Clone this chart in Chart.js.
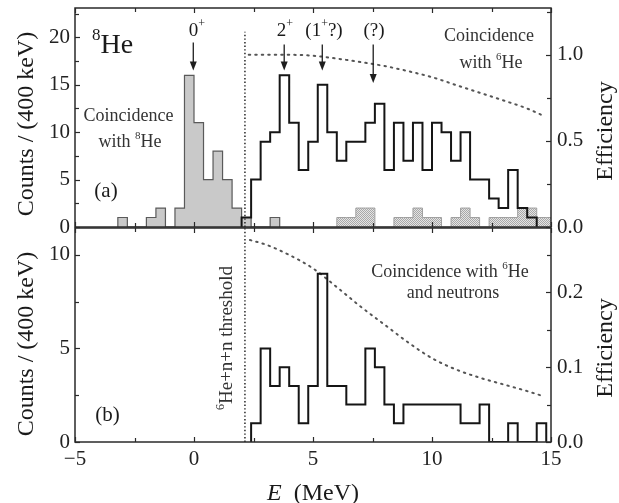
<!DOCTYPE html>
<html><head><meta charset="utf-8">
<script src="https://cdn.jsdelivr.net/npm/chart.js@4.4.0/dist/chart.umd.min.js"></script>
<style>
html,body{margin:0;padding:0;background:#fff;}
#wrap{position:relative;width:619px;height:503px;background:#fff;}
canvas{position:absolute;left:0;top:0;}
</style></head><body>
<div id="wrap"><canvas id="cb" width="619" height="503"></canvas><canvas id="ca" width="619" height="503"></canvas></div>
<script>
// ---------------- data ----------------
const BIN_WIDTH = 0.4;            // MeV (400 keV bins)
const THRESHOLD = 2.14;           // 6He+n+n threshold, MeV
const X_TICKS = [-5, 0, 5, 10, 15];

// (a) coincidence with 8He (grey filled)
const he8Start = -3.2;
const he8Counts = [1, 0, 0, 1, 2, 0, 2, 16, 11, 5, 8, 5, 2, 1, 0, 0, 1];
// (a) coincidence with 6He (black outline)
const he6Start = 2.0;
const he6Counts = [1, 5, 9, 10, 16, 11, 6, 9, 15, 10, 7, 9, 9, 11, 13, 6, 11, 7, 11, 6, 11, 10, 7, 10, 5, 5, 3, 2, 6, 2, 1];
// (a) hatched background spectrum
const bgStart = 6.0;
const bgCounts = [1, 1, 2, 2, 0, 0, 1, 1, 2, 1, 1, 0, 1, 2, 1, 0, 1, 1, 1, 2, 2, 1, 1];
// (b) coincidence with 6He and neutrons
const nnStart = 2.4;
const nnCounts = [1, 5, 3, 4, 3, 1, 3, 9, 3, 3, 2, 2, 5, 4, 2, 1, 2, 2, 2, 2, 2, 2, 1, 1, 2, 0, 0, 1, 0, 0, 1];

// efficiency curves
const effE      = [2.3, 3, 4, 5, 6, 7, 8, 9, 10, 11, 12, 13, 14, 14.7];
const effTop    = [1.0, 1.0, 1.0, 0.995, 0.978, 0.958, 0.935, 0.905, 0.87, 0.825, 0.78, 0.735, 0.688, 0.645];
const effBotE   = [2.35, 3, 4, 5, 6, 7, 8, 9, 10, 11, 12, 13, 14, 14.7];
const effBot    = [0.27, 0.264, 0.25, 0.232, 0.207, 0.181, 0.157, 0.133, 0.112, 0.097, 0.086, 0.077, 0.068, 0.061];

// arrows (E, count from, count to)
const arrowE    = [-0.03, 3.79, 5.39, 7.53];
const arrowFrom = [19.45, 19.25, 19.25, 19.25];
const arrowTo   = [16.5, 16.5, 16.5, 15.2];

// axis ranges
const TOP_COUNT_MAX = 23.1, TOP_EFF_MAX = 1.272;
const BOT_COUNT_MAX = 11.44, BOT_EFF_MAX = 0.286;

// ---------------- helpers ----------------
function histPoints(start, counts) {
  const pts = [{x: start, y: 0}];
  counts.forEach((c, i) => pts.push({x: +(start + i * BIN_WIDTH).toFixed(3), y: c}));
  pts.push({x: +(start + counts.length * BIN_WIDTH).toFixed(3), y: 0});
  return pts;
}
const xy = (xs, ys) => xs.map((x, i) => ({x, y: ys[i]}));
const SERIF = '"Liberation Serif", "Times New Roman", serif';
const fontFor = (p, size) => (p.it ? 'italic ' : '') + (p.sup ? Math.round(size * 0.62) : size) + 'px ' + SERIF;

function drawRich(ctx, parts, x, y, size, align) {
  ctx.textBaseline = 'alphabetic';
  ctx.textAlign = 'left';
  let total = 0;
  parts.forEach(p => { ctx.font = fontFor(p, size); total += ctx.measureText(p.t).width; });
  let cx = align === 'center' ? x - total / 2 : (align === 'right' ? x - total : x);
  parts.forEach(p => {
    ctx.font = fontFor(p, size);
    ctx.fillText(p.t, cx, y - (p.sup ? size * 0.45 : 0));
    cx += ctx.measureText(p.t).width;
  });
}
function drawRotated(ctx, parts, cx, cy, size) {
  ctx.save();
  ctx.translate(cx, cy);
  ctx.rotate(-Math.PI / 2);
  drawRich(ctx, parts, 0, size * 0.33, size, 'center');
  ctx.restore();
}

const hatchCanvas = document.createElement('canvas');
hatchCanvas.width = 2; hatchCanvas.height = 2;
(function () {
  const p = hatchCanvas.getContext('2d');
  p.fillStyle = '#e4e4e4'; p.fillRect(0, 0, 2, 2);
  p.fillStyle = '#a8a8a8'; p.fillRect(0, 0, 1, 1); p.fillRect(1, 1, 1, 1);
})();
const hatch = document.getElementById('ca').getContext('2d').createPattern(hatchCanvas, 'repeat');

function frameAndTicks(chart, xScale, yl, yr) {
  const ctx = chart.ctx, a = chart.chartArea;
  ctx.save();
  ctx.strokeStyle = '#2a2a2a';
  ctx.lineWidth = 1.5;
  ctx.strokeRect(a.left, a.top, a.right - a.left, a.bottom - a.top);
  ctx.lineWidth = 1.2;
  const seg = (x1, y1, x2, y2) => { ctx.beginPath(); ctx.moveTo(x1, y1); ctx.lineTo(x2, y2); ctx.stroke(); };
  const vals = (s) => {
    const maj = s.ticks.map(t => t.value);
    const step = maj[1] - maj[0];
    const min = [];
    for (let v = maj[0] + step / 2; v <= s.max + 1e-9; v += step) min.push(v);
    return {maj, min};
  };
  const xv = vals(xScale);
  [[xv.maj, 5], [xv.min, 4]].forEach(([arr, len]) => arr.forEach(v => {
    const px = Math.round(xScale.getPixelForValue(v)) + 0.5;
    seg(px, a.bottom, px, a.bottom - len);
    seg(px, a.top, px, a.top + len);
  }));
  const lv = vals(yl);
  [[lv.maj, 5], [lv.min, 4]].forEach(([arr, len]) => arr.forEach(v => {
    const py = Math.round(yl.getPixelForValue(v)) + 0.5;
    seg(a.left, py, a.left + len, py);
  }));
  const rv = vals(yr);
  [[rv.maj, 5], [rv.min, 4]].forEach(([arr, len]) => arr.forEach(v => {
    const py = Math.round(yr.getPixelForValue(v)) + 0.5;
    seg(a.right, py, a.right - len, py);
  }));
  ctx.restore();
}

const tickFont = {family: SERIF, size: 21};
const LEFT_W = 75, RIGHT_W = 68;
const commonY = (pos, min, max, step, fmt, pad) => ({
  type: 'linear', position: pos, min, max,
  afterFit: s => { s.width = pos === 'left' ? LEFT_W : RIGHT_W; s.paddingTop = 0; s.paddingBottom = 0; },
  grid: {display: false, drawTicks: false},
  border: {display: false},
  ticks: {stepSize: step, includeBounds: false, font: tickFont, color: '#222', padding: pad, callback: fmt}
});
const intFmt = v => String(v);
const dec1 = v => v.toFixed(1);

// ---------------- top chart (a) ----------------
const topPlugin = {
  id: 'topDeco',
  afterDatasetsDraw(chart) {
    const ctx = chart.ctx, x = chart.scales.x, y = chart.scales.y;
    frameAndTicks(chart, x, y, chart.scales.y2);
    ctx.save();
    ctx.fillStyle = '#1e1e1e'; ctx.strokeStyle = '#1e1e1e'; ctx.lineWidth = 1.3;
    arrowE.forEach((e, i) => {
      const px = x.getPixelForValue(e), y1 = y.getPixelForValue(arrowFrom[i]), y2 = y.getPixelForValue(arrowTo[i]);
      ctx.beginPath(); ctx.moveTo(px, y1); ctx.lineTo(px, y2 - 7); ctx.stroke();
      ctx.beginPath(); ctx.moveTo(px - 3.5, y2 - 9); ctx.lineTo(px + 3.5, y2 - 9); ctx.lineTo(px, y2); ctx.closePath(); ctx.fill();
    });
    ctx.fillStyle = '#1a1a1a';
    drawRich(ctx, [{t: '8', sup: true}, {t: 'He'}], 92, 53, 28, 'left');
    drawRich(ctx, [{t: '0'}, {t: '+', sup: true}], 197, 36, 19, 'center');
    drawRich(ctx, [{t: '2'}, {t: '+', sup: true}], 285, 36, 19, 'center');
    drawRich(ctx, [{t: '(1'}, {t: '+', sup: true}, {t: '?)'}], 324, 36, 19, 'center');
    drawRich(ctx, [{t: '(?)'}], 374, 36, 19, 'center');
    ctx.fillStyle = '#333';
    drawRich(ctx, [{t: 'Coincidence'}], 128.5, 121, 18, 'center');
    drawRich(ctx, [{t: 'with '}, {t: '8', sup: true}, {t: 'He'}], 130, 147, 18, 'center');
    drawRich(ctx, [{t: 'Coincidence'}], 489, 41, 18, 'center');
    drawRich(ctx, [{t: 'with '}, {t: '6', sup: true}, {t: 'He'}], 491, 68, 18, 'center');
    ctx.fillStyle = '#1a1a1a';
    drawRich(ctx, [{t: '(a)'}], 106, 197, 21, 'center');
    drawRotated(ctx, [{t: 'Counts / (400 keV)'}], 25, 124, 24);
    drawRotated(ctx, [{t: 'Efficiency'}], 604, 131, 24);
    ctx.restore();
  }
};

new Chart(document.getElementById('ca'), {
  type: 'line',
  data: {
    datasets: [
      {data: histPoints(he6Start, he6Counts), stepped: true, borderColor: '#151515', borderWidth: 2, fill: false, pointRadius: 0, yAxisID: 'y'},
      {data: xy(effE, effTop), borderColor: '#555', borderWidth: 2, borderDash: [1.5, 5], borderCapStyle: 'round', cubicInterpolationMode: 'monotone', fill: false, pointRadius: 0, yAxisID: 'y2'},
      {data: [{x: THRESHOLD, y: 0}, {x: THRESHOLD, y: 20.6}], borderColor: '#333', borderWidth: 1.6, borderDash: [1.4, 2.2], fill: false, pointRadius: 0, yAxisID: 'y'},
      {data: histPoints(bgStart, bgCounts), stepped: true, borderColor: '#a0a0a0', borderWidth: 1, backgroundColor: hatch, fill: 'origin', pointRadius: 0, yAxisID: 'y'},
      {data: histPoints(he8Start, he8Counts), stepped: true, borderColor: '#5a5a5a', borderWidth: 1.2, backgroundColor: '#c9c9c9', fill: 'origin', pointRadius: 0, yAxisID: 'y'}
    ]
  },
  options: {
    responsive: false, animation: false, devicePixelRatio: 1,
    layout: {padding: {left: 0, right: 0, top: 8, bottom: 503 - 227}},
    plugins: {legend: {display: false}, tooltip: {enabled: false}},
    scales: {
      x: {type: 'linear', min: -5, max: 15, display: false, ticks: {stepSize: 5}},
      y: commonY('left', 0, TOP_COUNT_MAX, 5, intFmt, 5),
      y2: commonY('right', 0, TOP_EFF_MAX, 0.5, dec1, 6)
    }
  },
  plugins: [topPlugin]
});

// ---------------- bottom chart (b) ----------------
const botPlugin = {
  id: 'botDeco',
  afterDatasetsDraw(chart) {
    const ctx = chart.ctx;
    frameAndTicks(chart, chart.scales.x, chart.scales.y, chart.scales.y2);
    ctx.save();
    ctx.fillStyle = '#333';
    drawRich(ctx, [{t: 'Coincidence with '}, {t: '6', sup: true}, {t: 'He'}], 450, 277, 18, 'center');
    drawRich(ctx, [{t: 'and neutrons'}], 453, 298, 18, 'center');
    drawRotated(ctx, [{t: '6', sup: true}, {t: 'He+n+n threshold'}], 226, 338, 19);
    ctx.fillStyle = '#1a1a1a';
    drawRich(ctx, [{t: '(b)'}], 107.5, 421, 21, 'center');
    drawRotated(ctx, [{t: 'Counts / (400 keV)'}], 25, 344, 24);
    drawRotated(ctx, [{t: 'Efficiency'}], 604, 348, 24);
    drawRich(ctx, [{t: 'E', it: true}, {t: '  (MeV)'}], 313, 500, 24, 'center');
    ctx.restore();
  }
};

new Chart(document.getElementById('cb'), {
  type: 'line',
  data: {
    datasets: [
      {data: histPoints(nnStart, nnCounts), stepped: true, borderColor: '#151515', borderWidth: 2, fill: false, pointRadius: 0, yAxisID: 'y'},
      {data: xy(effBotE, effBot), borderColor: '#555', borderWidth: 2, borderDash: [1.5, 5], borderCapStyle: 'round', cubicInterpolationMode: 'monotone', fill: false, pointRadius: 0, yAxisID: 'y2'},
      {data: [{x: THRESHOLD, y: 0}, {x: THRESHOLD, y: BOT_COUNT_MAX}], borderColor: '#333', borderWidth: 1.6, borderDash: [1.4, 2.2], fill: false, pointRadius: 0, yAxisID: 'y'}
    ]
  },
  options: {
    responsive: false, animation: false, devicePixelRatio: 1,
    layout: {padding: {left: 0, right: 0, top: 228, bottom: 0}},
    plugins: {legend: {display: false}, tooltip: {enabled: false}},
    scales: {
      x: {type: 'linear', position: 'bottom', min: -5, max: 15,
          afterFit: s => { s.height = 503 - 442; },
          afterBuildTicks: s => { s.ticks = X_TICKS.map(v => ({value: v})); },
          grid: {display: false, drawTicks: false}, border: {display: false},
          ticks: {font: tickFont, color: '#222', padding: 5, maxRotation: 0, callback: v => String(v).replace('-', '\u2212')}},
      y: commonY('left', 0, BOT_COUNT_MAX, 5, intFmt, 5),
      y2: commonY('right', 0, BOT_EFF_MAX, 0.1, dec1, 6)
    }
  },
  plugins: [botPlugin]
});
</script>
</body></html>
